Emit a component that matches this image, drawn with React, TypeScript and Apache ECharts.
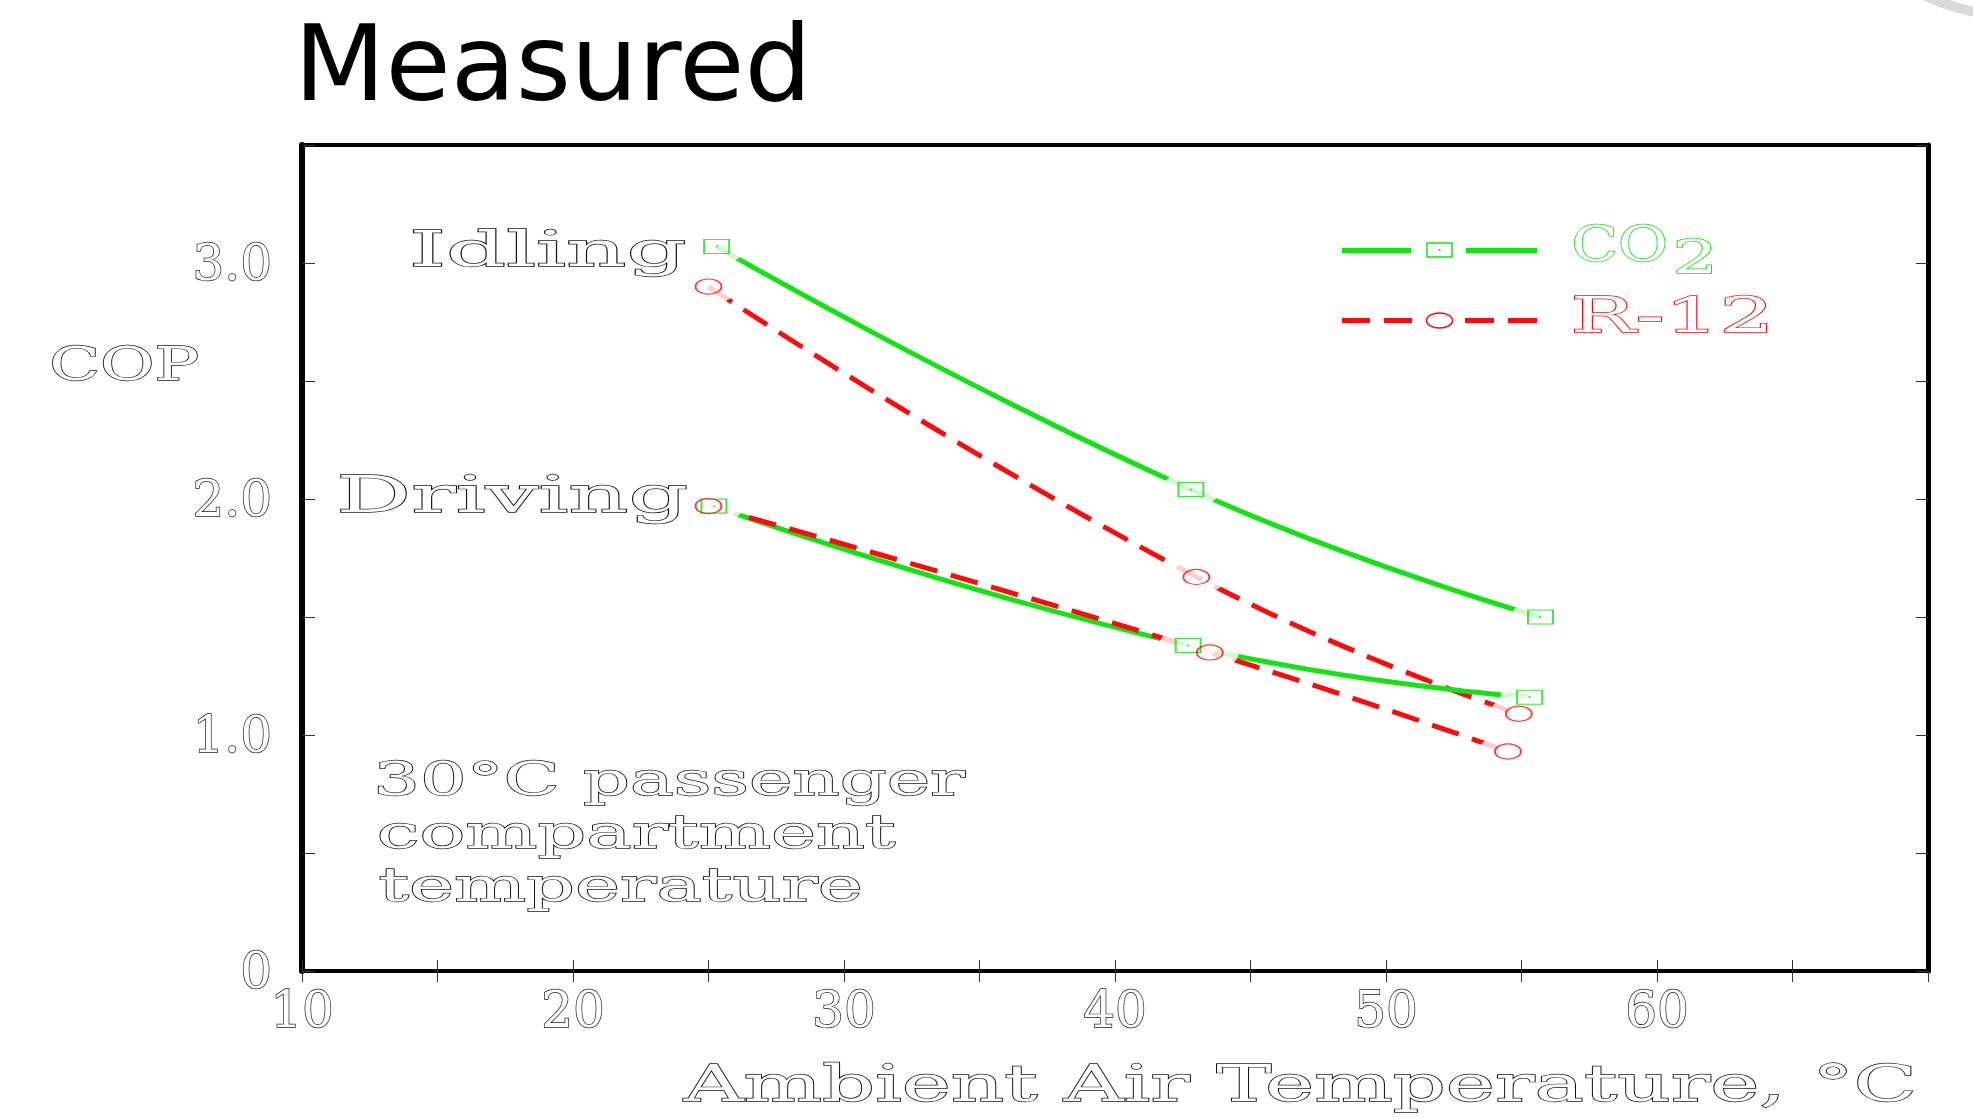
import React, { useEffect, useRef } from "react";
import * as echarts from "echarts";

// ---------- data ----------
const idlingCO2Temp = [25.3, 42.8, 55.7];
const idlingCO2Cop = [3.07, 2.04, 1.5];
const idlingR12Temp = [25.0, 43.0, 54.9];
const idlingR12Cop = [2.9, 1.67, 1.09];
const drivingCO2Temp = [25.2, 42.7, 55.3];
const drivingCO2Cop = [1.97, 1.38, 1.16];
const drivingR12Temp = [25.0, 43.5, 54.5];
const drivingR12Cop = [1.97, 1.35, 0.93];

const xLabelValues = [10, 20, 30, 40, 50, 60];
const yLabelValues = [0, 1, 2, 3];

const GREEN = "#12e412";
const RED = "#ff0a0a";
const SERIF = "DejaVu Serif";

const zip = (xs: number[], ys: number[]) => xs.map((x, i) => [x, ys[i]]);

let measureCtx: CanvasRenderingContext2D | null = null;
function fitText(
  text: string,
  inkLeft: number,
  inkRight: number,
  cy: number,
  fontSize: number,
  fill: string,
  stroke: string,
  lineWidth = 1.3
) {
  if (!measureCtx) measureCtx = document.createElement("canvas").getContext("2d");
  const font = `${fontSize}px "${SERIF}"`;
  measureCtx!.font = font;
  const m = measureCtx!.measureText(text);
  const ink = m.actualBoundingBoxLeft + m.actualBoundingBoxRight || m.width;
  const sx = (inkRight - inkLeft) / ink;
  return {
    type: "text",
    x: inkLeft + m.actualBoundingBoxLeft * sx,
    y: cy,
    scaleX: sx,
    z: 100,
    silent: true,
    style: {
      text,
      font,
      fontSize,
      fontFamily: SERIF,
      fill,
      stroke,
      lineWidth,
      align: "left",
      verticalAlign: "middle",
      textAlign: "left",
      textVerticalAlign: "middle",
    },
  };
}

export default function App() {
  const ref = useRef<HTMLDivElement>(null);

  useEffect(() => {
    document.body.style.margin = "0";
    const chart = echarts.init(ref.current!, undefined, { renderer: "svg" });

    const lineSeries = (name: string, data: number[][], color: string, dashed: boolean) => ({
      name,
      type: "line",
      data,
      smooth: 0.5,
      showSymbol: false,
      symbol: "none",
      silent: true,
      z: 2,
      lineStyle: { color, width: 5, type: dashed ? [28, 14] : "solid", cap: "butt" },
    });

    const co2Points = [...zip(idlingCO2Temp, idlingCO2Cop), ...zip(drivingCO2Temp, drivingCO2Cop)];
    const r12Points = [...zip(idlingR12Temp, idlingR12Cop), ...zip(drivingR12Temp, drivingR12Cop)];

    const dark = "#151515";

    const graphic: any[] = [
      // slide decoration, top right
      {
        type: "arc",
        silent: true,
        shape: { cx: 2016, cy: -196, r: 212, startAngle: Math.PI / 2, endAngle: (130 * Math.PI) / 180 },
        style: { stroke: "#dadada", lineWidth: 10, fill: "none" },
      },
      fitText("Idling", 413, 685, 249.5, 48, "#fff", dark),
      fitText("Driving", 340, 687, 494, 51, "#fff", dark),
      fitText("COP", 52, 197, 364, 47, "#fff", dark),
      fitText("30°C passenger", 378, 966, 779, 47, "#fff", dark),
      fitText("compartment", 380, 896, 832, 47, "#fff", dark),
      fitText("temperature", 380, 860, 885, 47, "#fff", dark),
      fitText("Ambient Air Temperature, °C", 682, 1912, 1083, 51, "#fff", dark),
      // legend
      { type: "line", silent: true, z: 100, shape: { x1: 1342, y1: 250.5, x2: 1411, y2: 250.5 }, style: { stroke: GREEN, lineWidth: 5 } },
      { type: "line", silent: true, z: 100, shape: { x1: 1466, y1: 250.5, x2: 1537, y2: 250.5 }, style: { stroke: GREEN, lineWidth: 5 } },
      { type: "rect", silent: true, z: 100, shape: { x: 1427, y: 243, width: 25, height: 14 }, style: { stroke: GREEN, lineWidth: 1.5, fill: "#fff" } },
      { type: "circle", silent: true, z: 101, shape: { cx: 1439.5, cy: 250, r: 1 }, style: { fill: GREEN } },
      ...[
        [1342, 1370],
        [1384, 1412],
        [1465, 1494],
        [1508, 1537],
      ].map(([a, b]) => ({
        type: "line",
        silent: true,
        z: 100,
        shape: { x1: a, y1: 320.5, x2: b, y2: 320.5 },
        style: { stroke: RED, lineWidth: 5 },
      })),
      { type: "ellipse", silent: true, z: 100, shape: { cx: 1439.5, cy: 320.5, rx: 13, ry: 7.5 }, style: { stroke: RED, lineWidth: 1.5, fill: "#fff" } },
      fitText("CO", 1574, 1665, 244.5, 48, "#fff", GREEN, 1.4),
      fitText("2", 1677, 1712, 257, 47, "#fff", GREEN, 1.4),
      fitText("R-12", 1574, 1767, 315, 49, "#fff", RED, 1.4),
    ];

    const labelStyle = {
      fontFamily: SERIF,
      fontSize: 50,
      color: "#fff",
      textBorderColor: dark,
      textBorderWidth: 1.4,
    };

    const option: any = {
      animation: false,
      backgroundColor: "#fff",
      title: {
        text: "Measured",
        left: 294,
        top: 10,
        padding: 0,
        textStyle: { fontFamily: "DejaVu Sans", fontSize: 106, fontWeight: "normal", color: "#000" },
      },
      grid: {
        left: 302,
        right: 45,
        top: 145,
        bottom: 147,
        show: true,
        borderColor: "#000",
        borderWidth: 4,
        backgroundColor: "transparent",
      },
      xAxis: [
        {
          type: "value",
          min: 10,
          max: 70,
          interval: 5,
          position: "bottom",
          axisLine: { show: false },
          axisTick: { show: true, inside: true, length: 11, lineStyle: { color: "#333", width: 1 } },
          splitLine: { show: false },
          axisLabel: {
            ...labelStyle,
            margin: 14,
            showMaxLabel: false,
            formatter: (v: number) => (xLabelValues.includes(v) ? String(v) : ""),
          },
        },
        {
          type: "value",
          min: 10,
          max: 70,
          interval: 5,
          position: "top",
          axisLine: { show: false },
          axisTick: { show: true, inside: true, length: 11, lineStyle: { color: "#333", width: 1 } },
          splitLine: { show: false },
          axisLabel: { show: false },
        },
      ],
      yAxis: [
        {
          type: "value",
          min: 0,
          max: 3.5,
          interval: 0.5,
          position: "left",
          axisLine: { show: true, lineStyle: { color: "#000", width: 6 } },
          axisTick: { show: true, inside: true, length: 13, lineStyle: { color: "#333", width: 1 } },
          splitLine: { show: false },
          axisLabel: {
            ...labelStyle,
            margin: 30,
            formatter: (v: number) => (yLabelValues.includes(v) ? (v === 0 ? "0" : v.toFixed(1)) : ""),
          },
        },
        {
          type: "value",
          min: 0,
          max: 3.5,
          interval: 0.5,
          position: "right",
          axisLine: { show: true, lineStyle: { color: "#000", width: 5 } },
          axisTick: { show: true, inside: true, length: 12, lineStyle: { color: "#333", width: 1 } },
          splitLine: { show: false },
          axisLabel: { show: false },
        },
      ],
      series: [
        lineSeries("CO2 idling", zip(idlingCO2Temp, idlingCO2Cop), GREEN, false),
        lineSeries("R-12 idling", zip(idlingR12Temp, idlingR12Cop), RED, true),
        lineSeries("CO2 driving", zip(drivingCO2Temp, drivingCO2Cop), GREEN, false),
        lineSeries("R-12 driving", zip(drivingR12Temp, drivingR12Cop), RED, true),
        {
          name: "gap",
          type: "scatter",
          silent: true,
          z: 3,
          symbol: "circle",
          symbolSize: [58, 36],
          itemStyle: { color: "#fff", borderWidth: 0 },
          data: [...co2Points, ...r12Points],
        },
        {
          name: "CO2",
          type: "scatter",
          silent: true,
          z: 4,
          symbol: "rect",
          symbolSize: [25, 14],
          itemStyle: { color: "rgba(255,255,255,0)", borderColor: GREEN, borderWidth: 1.5 },
          data: co2Points,
        },
        {
          name: "R-12",
          type: "scatter",
          silent: true,
          z: 4,
          symbol: "circle",
          symbolSize: [26, 15],
          itemStyle: { color: "rgba(255,255,255,0)", borderColor: RED, borderWidth: 1.5 },
          data: r12Points,
        },
        {
          name: "CO2 centre",
          type: "scatter",
          silent: true,
          z: 5,
          symbol: "circle",
          symbolSize: 2,
          itemStyle: { color: GREEN },
          data: co2Points,
        },
      ],
      graphic,
    };

    chart.setOption(option);
    return () => chart.dispose();
  }, []);

  return <div ref={ref} style={{ width: 1973, height: 1118 }} />;
}
